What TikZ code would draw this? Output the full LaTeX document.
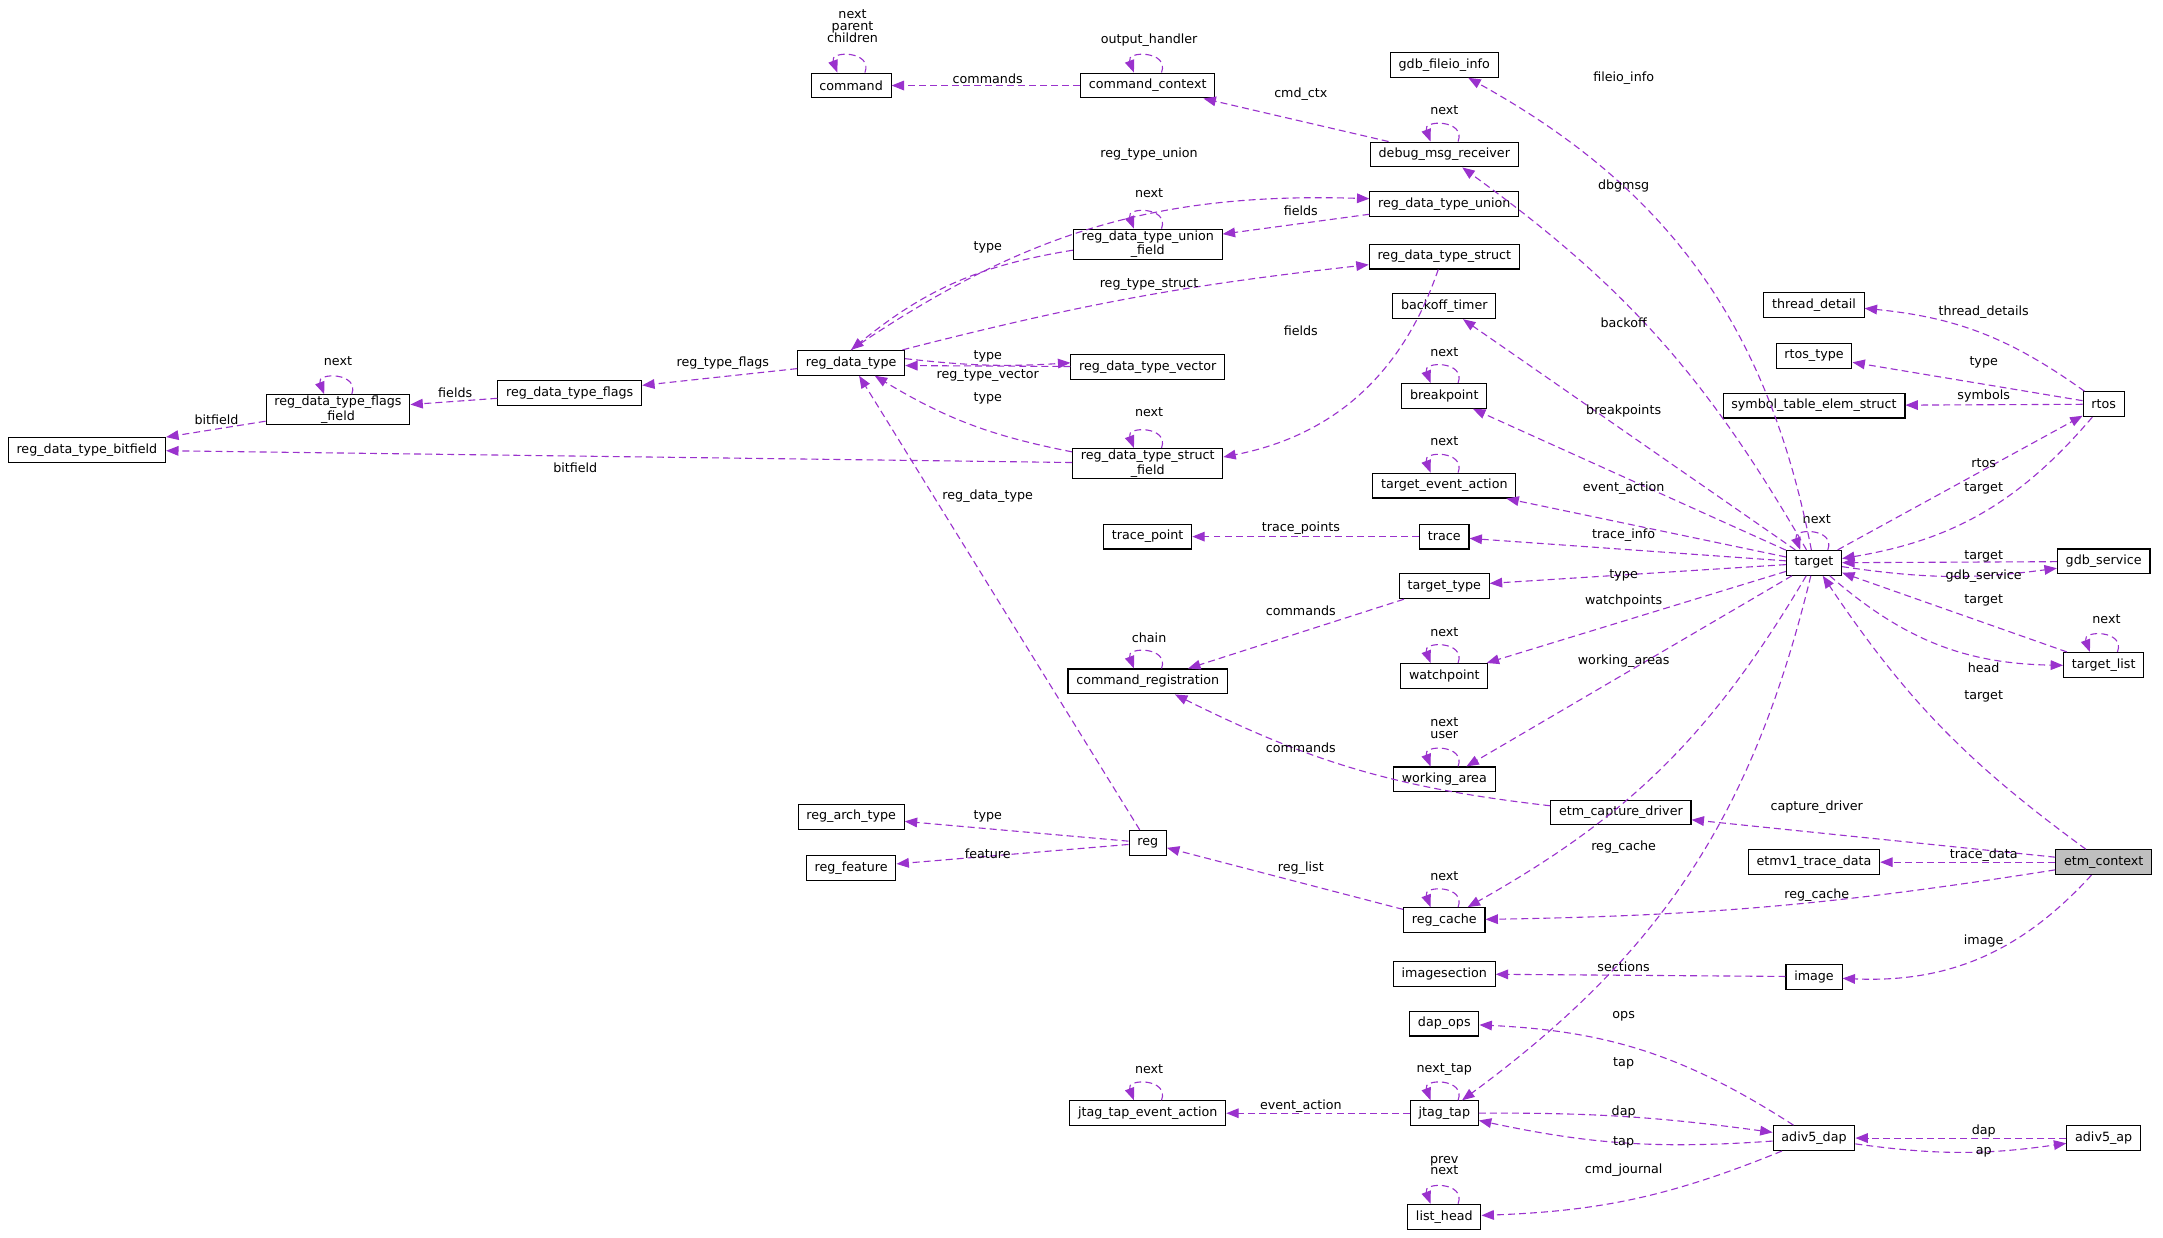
\documentclass[tikz,border=0pt]{standalone}
\usepackage{fontspec}
\setmainfont{DejaVu Sans}
\usetikzlibrary{arrows.meta}
\definecolor{edgec}{RGB}{154,50,205}
\tikzset{
 box/.style={draw=black,line width=0.8pt,inner xsep=6pt,inner ysep=1pt,minimum height=18pt,font=\fontsize{9.2}{10.5}\selectfont,align=center,fill=white},
 lbl/.style={inner sep=0pt,font=\fontsize{9.2}{10.5}\selectfont,align=center},
 edge/.style={draw=edgec,line width=0.8pt,dash pattern=on 5pt off 3pt,-{Triangle[length=9pt,width=7pt,fill=edgec]}},
}
\newcommand{\selfloop}[1]{\draw[edge] ([xshift=10pt]#1.north) .. controls +(6,-16) and +(-6,-16) .. ([xshift=-10pt]#1.north);}
\begin{document}
\begin{tikzpicture}[x=1pt,y=-1pt]
\useasboundingbox[fill=white] (0,0) rectangle (1568,897);
% nodes
\node[box] (command) at (617,62) {command};
\node[box] (cmdctx) at (832,62) {command\_context};
\node[box] (fileio) at (1047,47) {gdb\_fileio\_info};
\node[box] (dbg) at (1047,112) {debug\_msg\_receiver};
\node[box] (union) at (1047,148) {reg\_data\_type\_union};
\node[box] (unionf) at (832,177) {reg\_data\_type\_union\\\_field};
\node[box] (struct) at (1047,186) {reg\_data\_type\_struct};
\node[box] (backoff) at (1047,222) {backoff\_timer};
\node[box] (rdt) at (617,263) {reg\_data\_type};
\node[box] (vector) at (832,266) {reg\_data\_type\_vector};
\node[box] (flags) at (413,285) {reg\_data\_type\_flags};
\node[box] (flagsf) at (245,297) {reg\_data\_type\_flags\\\_field};
\node[box] (bitfield) at (63,326) {reg\_data\_type\_bitfield};
\node[box] (structf) at (832,336) {reg\_data\_type\_struct\\\_field};
\node[box] (bp) at (1047,287) {breakpoint};
\node[box] (tea) at (1047,352) {target\_event\_action};
\node[box] (trace) at (1047,389) {trace};
\node[box] (tp) at (832,389) {trace\_point};
\node[box] (ttype) at (1047,425) {target\_type};
\node[box] (creg) at (832,494) {command\_registration};
\node[box] (wp) at (1047,490) {watchpoint};
\node[box] (wa) at (1047,565) {working\_area};
\node[box] (ecd) at (1175,589) {etm\_capture\_driver};
\node[box] (rat) at (617,592) {reg\_arch\_type};
\node[box] (rfeat) at (617,629) {reg\_feature};
\node[box] (reg) at (832,611) {reg};
\node[box] (rcache) at (1047,667) {reg\_cache};
\node[box] (etmv1) at (1315,625) {etmv1\_trace\_data};
\node[box,fill={rgb,255:red,191;green,191;blue,191}] (etm) at (1525,625) {etm\_context};
\node[box] (image) at (1315,708) {image};
\node[box] (isec) at (1047,706) {imagesection};
\node[box] (dapops) at (1047,742) {dap\_ops};
\node[box] (jtea) at (832,807) {jtag\_tap\_event\_action};
\node[box] (jtag) at (1047,807) {jtag\_tap};
\node[box] (dap) at (1315,825) {adiv5\_dap};
\node[box] (ap) at (1525,825) {adiv5\_ap};
\node[box] (lh) at (1047,882) {list\_head};
\node[box] (thd) at (1315,221) {thread\_detail};
\node[box] (rtype) at (1315,258) {rtos\_type};
\node[box] (sym) at (1315,294) {symbol\_table\_elem\_struct};
\node[box] (rtos) at (1525,293) {rtos};
\node[box] (target) at (1315,408) {target};
\node[box] (gdbs) at (1525,407) {gdb\_service};
\node[box] (tlist) at (1525,482) {target\_list};
% self loops
\selfloop{command} \node[lbl] (l1) at (618,19) {next\\[-2pt]parent\\[-2pt]children};
\selfloop{cmdctx} \node[lbl] (l2) at (833,29) {output\_handler};
\selfloop{dbg} \node[lbl] (l3) at (1047,80) {next};
\selfloop{unionf} \node[lbl] (l4) at (833,140) {next};
\selfloop{flagsf} \node[lbl] (l5) at (245,262) {next};
\selfloop{structf} \node[lbl] (l6) at (833,299) {next};
\selfloop{bp} \node[lbl] (l7) at (1047,255) {next};
\selfloop{tea} \node[lbl] (l8) at (1047,320) {next};
\selfloop{target} \node[lbl] (l9) at (1317,376) {next};
\selfloop{creg} \node[lbl] (l10) at (833,462) {chain};
\selfloop{wp} \node[lbl] (l11) at (1047,458) {next};
\selfloop{wa} \node[lbl] (l12) at (1047,528) {next\\[-2pt]user};
\selfloop{rcache} \node[lbl] (l13) at (1047,635) {next};
\selfloop{tlist} \node[lbl] (l14) at (1527,449) {next};
\selfloop{jtea} \node[lbl] (l15) at (833,775) {next};
\selfloop{jtag} \node[lbl] (l16) at (1047,775) {next\_tap};
\selfloop{lh} \node[lbl] (l17) at (1047,845) {prev\\[-2pt]next};
% edges
\draw[edge] (cmdctx) -- (command) node[lbl] at (716,57) {commands};
\draw[edge] (dbg) -- (cmdctx) node[lbl] at (943,68) {cmd\_ctx};
\draw[edge] (target) to[bend right=25] (fileio) node[lbl] at (1177,57) {fileio\_info};
\draw[edge] (target) to[bend right=12] (dbg) node[lbl] at (1177,135) {dbgmsg};
\draw[edge] (rdt.north) to[bend left=18] (union) node[lbl] at (833,112) {reg\_type\_union};
\draw[edge] (union) -- (unionf) node[lbl] at (943,153) {fields};
\draw[edge] (unionf) to[bend right=15] (rdt.north) node[lbl] at (716,179) {type};
\draw[edge] (rdt) to[bend left=4] (struct) node[lbl] at (833,206) {reg\_type\_struct};
\draw[edge] (struct) to[bend left=30] (structf) node[lbl] at (943,240) {fields};
\draw[edge] (target) -- (backoff) node[lbl] at (1177,234) {backoff};
\draw[edge] (rdt) -- (flags) node[lbl] at (524,263) {reg\_type\_flags};
\draw[edge] (vector) -- ([yshift=-2pt]rdt.east) node[lbl] at (716,258) {type};
\draw[edge] ([yshift=3pt]rdt.east) to[bend right=5] ([yshift=3pt]vector.west) node[lbl] at (716,272) {reg\_type\_vector};
\draw[edge] (structf) to[bend left=10] (rdt) node[lbl] at (716,289) {type};
\draw[edge] (flags) -- (flagsf) node[lbl] at (330,285) {fields};
\draw[edge] (flagsf) -- (bitfield) node[lbl] at (157,304) {bitfield};
\draw[edge] (structf) -- (bitfield) node[lbl] at (417,339) {bitfield};
\draw[edge] (reg) -- (rdt) node[lbl] at (716,360) {reg\_data\_type};
\draw[edge] (target) -- (bp) node[lbl] at (1177,298) {breakpoints};
\draw[edge] (target) -- (tea) node[lbl] at (1177,354) {event\_action};
\draw[edge] (target) -- (trace) node[lbl] at (1177,388) {trace\_info};
\draw[edge] (trace) -- (tp) node[lbl] at (943,383) {trace\_points};
\draw[edge] (target) -- (ttype) node[lbl] at (1177,417) {type};
\draw[edge] (ttype) -- (creg) node[lbl] at (943,443) {commands};
\draw[edge] (target) -- (wp) node[lbl] at (1177,436) {watchpoints};
\draw[edge] (target) -- (wa) node[lbl] at (1177,479) {working\_areas};
\draw[edge] (ecd) to[bend left=10] (creg) node[lbl] at (943,542) {commands};
\draw[edge] (etm) -- (ecd) node[lbl] at (1317,585) {capture\_driver};
\draw[edge] (reg) -- (rat) node[lbl] at (716,592) {type};
\draw[edge] (reg) -- (rfeat) node[lbl] at (716,619) {feature};
\draw[edge] (rcache) -- (reg) node[lbl] at (943,629) {reg\_list};
\draw[edge] (target) to[bend left=15] (rcache) node[lbl] at (1177,614) {reg\_cache};
\draw[edge] (etm) to[bend left=4] (rcache) node[lbl] at (1317,649) {reg\_cache};
\draw[edge] (etm) -- (etmv1) node[lbl] at (1438,620) {trace\_data};
\draw[edge] (etm) to[bend left=25] (image) node[lbl] at (1438,682) {image};
\draw[edge] (image) -- (isec) node[lbl] at (1177,701) {sections};
\draw[edge] (dap) to[bend right=15] (dapops) node[lbl] at (1177,737) {ops};
\draw[edge] (target) to[bend left=20] (jtag) node[lbl] at (1177,771) {tap};
\draw[edge] (jtag) -- (jtea) node[lbl] at (943,802) {event\_action};
\draw[edge] (jtag) to[bend left=4] (dap) node[lbl] at (1177,806) {dap};
\draw[edge] (dap) to[bend left=8] (jtag) node[lbl] at (1177,828) {tap};
\draw[edge] (dap) to[bend left=10] (lh) node[lbl] at (1177,848) {cmd\_journal};
\draw[edge] (ap) -- (dap) node[lbl] at (1438,820) {dap};
\draw[edge] (dap) to[bend right=8] (ap) node[lbl] at (1438,835) {ap};
\draw[edge] (rtos) to[bend right=15] (thd) node[lbl] at (1438,226) {thread\_details};
\draw[edge] (rtos) -- (rtype) node[lbl] at (1438,263) {type};
\draw[edge] (rtos) -- (sym) node[lbl] at (1438,287) {symbols};
\draw[edge] (target) -- (rtos) node[lbl] at (1438,336) {rtos};
\draw[edge] (rtos) to[bend left=20] (target) node[lbl] at (1438,354) {target};
\draw[edge] (gdbs) -- (target) node[lbl] at (1438,403) {target};
\draw[edge] (target) to[bend right=8] (gdbs) node[lbl] at (1438,418) {gdb\_service};
\draw[edge] (tlist) -- (target) node[lbl] at (1438,435) {target};
\draw[edge] (target) to[bend right=20] (tlist) node[lbl] at (1438,484) {head};
\draw[edge] (etm) to[bend left=10] (target) node[lbl] at (1438,505) {target};
\end{tikzpicture}
\end{document}
